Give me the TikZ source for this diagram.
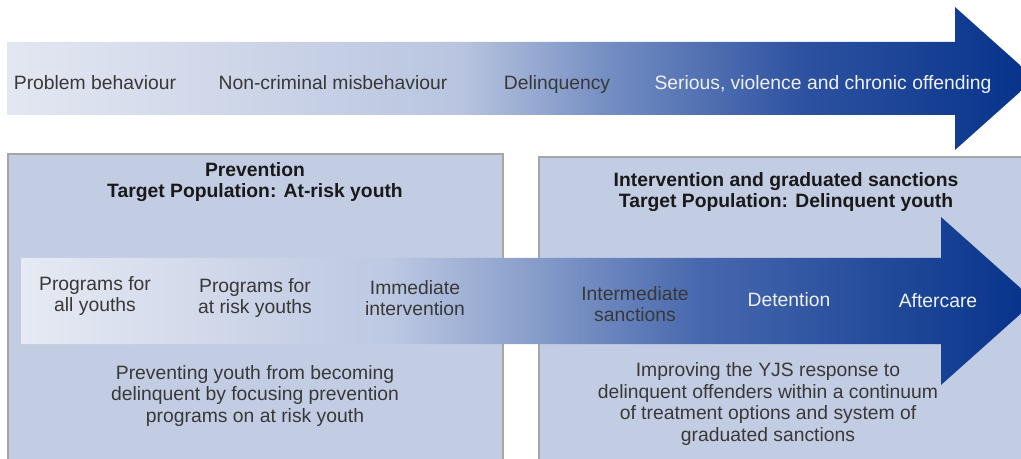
\documentclass[tikz,border=0pt]{standalone}
\usepackage{fontspec}
\setmainfont{Liberation Sans}
\usepackage{xcolor}
\usepackage{tikz}
\usetikzlibrary{positioning}

\definecolor{boxfill}{HTML}{C2CDE4}
\definecolor{boxline}{HTML}{A6A6A6}
\definecolor{textgrey}{HTML}{383838}
\definecolor{textlight}{HTML}{EEF1F7}
\definecolor{pale}{HTML}{E3E7F1}
\definecolor{paler}{HTML}{E6EAF3}
\definecolor{mist}{HTML}{C8D1E6}
\definecolor{mist2}{HTML}{C3CDE4}
\definecolor{haze}{HTML}{B9C5E0}
\definecolor{haze2}{HTML}{BDC8E2}
\definecolor{midblue}{HTML}{7891C4}
\definecolor{midblue2}{HTML}{8CA1CC}
\definecolor{deepblue}{HTML}{2E52A1}
\definecolor{deepblue2}{HTML}{4768AE}
\definecolor{navy}{HTML}{05328A}

% behaviour continuum (top arrow)
\pgfdeclarehorizontalshading{behaviourshade}{100bp}{%
  color(0bp)=(pale); color(25bp)=(pale); color(39.25bp)=(mist);
  color(47bp)=(haze); color(53.8bp)=(midblue); color(63.6bp)=(deepblue);
  color(75bp)=(navy); color(100bp)=(navy)}
% response continuum (bottom arrow)
\pgfdeclarehorizontalshading{responseshade}{100bp}{%
  color(0bp)=(paler); color(25bp)=(paler); color(40.2bp)=(mist2);
  color(43.2bp)=(haze2); color(49.6bp)=(midblue2); color(58.5bp)=(deepblue2);
  color(75bp)=(navy); color(100bp)=(navy)}

\begin{document}
\begin{tikzpicture}[
    x=0.02cm, y=-0.02cm,
    panel/.style={fill=boxfill, draw=boxline, line width=0.6pt},
    stage/.style={inner sep=0pt, align=center, text=textgrey, font=\fontsize{11}{12}\selectfont},
    stagelight/.style={stage, text=textlight},
    heading/.style={inner sep=0pt, align=center, text=black!90, font=\fontsize{11}{12}\selectfont\bfseries},
    note/.style={inner sep=0pt, align=center, text=textgrey, font=\fontsize{11}{12.2}\selectfont}
]
\useasboundingbox (0,0) rectangle (1021,459);

% panels
\draw[panel] (8,154) rectangle (503,470);
\draw[panel] (539,157) rectangle (1030,470);

% arrows
\shade[shading=behaviourshade] (7,42) -- (955,42) -- (955,7) -- (1035,78.5)
    -- (955,150) -- (955,115) -- (7,115) -- cycle;
\shade[shading=responseshade] (21,258) -- (941,258) -- (941,217) -- (1035,301)
    -- (941,385) -- (941,344) -- (21,344) -- cycle;

% behaviour stages
\node[stage, anchor=base] (problem) at (95,90) {Problem behaviour};
\node[stage, anchor=base] (noncriminal) at (333,90) {Non-criminal misbehaviour};
\node[stage, anchor=base] (delinquency) at (557,90) {Delinquency};
\node[stagelight, anchor=base] (serious) at (823,90) {Serious, violence and chronic offending};

% panel headings
\node[heading] (prevhead) at (255,182) {Prevention\\Target Population: At-risk youth};
\node[heading] (interhead) at (786,192) {Intervention and graduated sanctions\\Target Population: Delinquent youth};

% response stages
\node[stage] (allyouth) at (95,296) {Programs for\\all youths};
\node[stage] (riskyouth) at (255,298) {Programs for\\at risk youths};
\node[stage] (immediate) at (415,298) {Immediate\\intervention};
\node[stage] (intermediate) at (635,304) {Intermediate\\sanctions};
\node[stagelight] (detention) at (789,300) {Detention};
\node[stagelight] (aftercare) at (938,301) {Aftercare};

% panel notes
\node[note] (prevnote) at (255,396) {Preventing youth from becoming\\delinquent by focusing prevention\\programs on at risk youth};
\node[note] (internote) at (768,404) {Improving the YJS response to\\delinquent offenders within a continuum\\of treatment options and system of\\graduated sanctions};
\end{tikzpicture}
\end{document}
